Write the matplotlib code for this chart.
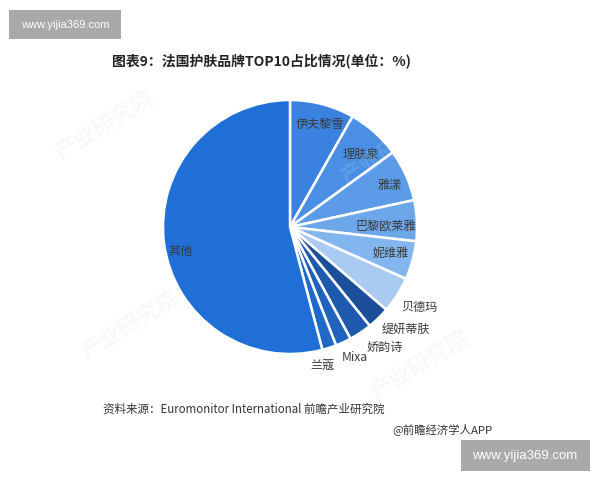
import matplotlib
matplotlib.use("Agg")
import matplotlib.pyplot as plt
import numpy as np
from matplotlib.patches import Rectangle

plt.rcParams["font.family"] = ["Noto Sans CJK SC", "DejaVu Sans"]

# brand shares (%), clockwise from 12 o'clock
brands = ["伊夫黎雪", "理肤泉", "雅漾", "巴黎欧莱雅", "妮维雅", "贝德玛",
          "缇妍蒂肤", "娇韵诗", "Mixa", "兰蔻", "其他"]
shares = [8.2, 6.8, 6.6, 5.2, 4.9, 4.6, 2.9, 2.9, 2.0, 1.8, 54.1]
colors = ["#3b82e0", "#4a8fe3", "#5b9be7", "#6ca7ea", "#83b5ee", "#a9cbf2",
          "#1b4f9a", "#1d5aae", "#1f63be", "#2169c9", "#1f6fd6"]

# label layout: radius (x pie radius) and angular nudge (deg) from wedge middle
label_r = [0.84, 0.80, 0.85, 0.75, 0.82, 1.20, 1.22, 1.21, 1.15, 1.12, 0.88]
label_nudge = [-1.4, -2.3, -1.6, -2.6, 0.5, 0.4, 4.4, 4.6, 1.4, -4.8, 5.0]

W, H = 600, 480
CX, CY, R = 290, H - 227, 127

fig = plt.figure(figsize=(6, 4.8), dpi=100)
ax = fig.add_axes([0, 0, 1, 1])

wedges, _ = ax.pie(shares, colors=colors, startangle=90, counterclock=False,
                   center=(CX, CY), radius=R,
                   wedgeprops=dict(edgecolor="white", linewidth=1.8))

for w, name, lr, dn in zip(wedges, brands, label_r, label_nudge):
    mid = np.deg2rad((w.theta1 + w.theta2) / 2 + dn)
    ax.text(CX + lr * R * np.cos(mid), CY + lr * R * np.sin(mid), name,
            ha="center", va="center", fontsize=8.7, color="#3a3a3a")

# very faint diagonal publisher watermarks (image coords, y from top)
for x, y, c in [(105, 125, "#c8c8c8"), (130, 325, "#c8c8c8"),
                (420, 365, "#c8c8c8"), (390, 150, "#ffffff")]:
    ax.text(x, H - y, "产业研究院", rotation=32, ha="center", va="center",
            fontsize=16, fontweight="bold", color=c, alpha=0.12)

ax.set_xlim(0, W)
ax.set_ylim(0, H)
ax.set_aspect("equal")
ax.axis("off")

# title and notes
ax.text(261, H - 61, "图表9：法国护肤品牌TOP10占比情况(单位：%)", ha="center", va="center",
        fontsize=10, fontweight="bold", color="#222222")
ax.text(103, H - 409, "资料来源：Euromonitor International 前瞻产业研究院",
        ha="left", va="center", fontsize=8.3, color="#333333")
ax.text(392, H - 429, "@前瞻经济学人APP", ha="left", va="center",
        fontsize=8.2, color="#333333")

# site watermark boxes
ax.add_patch(Rectangle((9, H - 39), 112, 29, facecolor="#a9a9a9", edgecolor="none"))
ax.text(65, H - 24.5, "www.yijia369.com", ha="center", va="center", fontsize=8,
        color="white", family="Liberation Sans")
ax.add_patch(Rectangle((461, H - 471), 129, 31, facecolor="#a9a9a9", edgecolor="none"))
ax.text(525, H - 455.5, "www.yijia369.com", ha="center", va="center", fontsize=9.5,
        color="white", family="Liberation Sans")

fig.savefig("out.png", dpi=100)
